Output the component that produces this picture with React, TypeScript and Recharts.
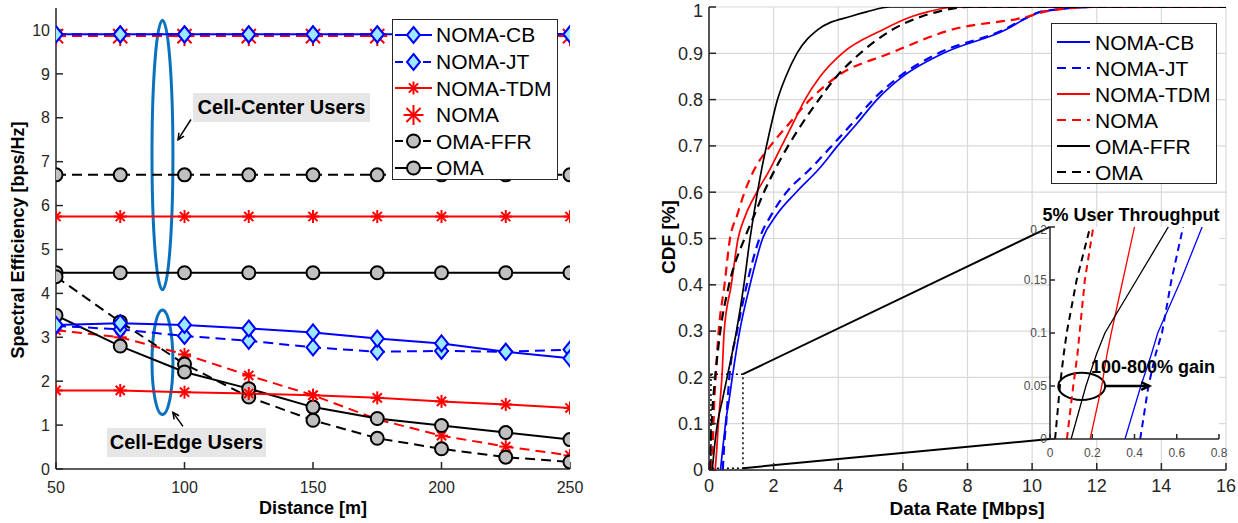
import React from 'react';
import {
  LineChart,
  Line,
  XAxis,
  YAxis,
  CartesianGrid,
  ReferenceArea,
  ReferenceLine,
} from 'recharts';

const FONT = '"Liberation Sans", Arial, Helvetica, sans-serif';
const AXIS = '#262626';
const BLUE = '#0000ff';
const RED = '#ff0000';
const BLACK = '#000000';
const CYAN = '#9be8ff';
const GRAYFILL = '#c0c0c0';
const ANNOT = '#0a72bd';

// ---------------- Left panel: spectral efficiency vs distance ----------------
const distances = [50, 75, 100, 125, 150, 175, 200, 225, 250];
const distanceTicks = [50, 100, 150, 200, 250];
const seTicks = [0, 1, 2, 3, 4, 5, 6, 7, 8, 9, 10];

const cbCenter = [9.9, 9.9, 9.9, 9.9, 9.9, 9.9, 9.9, 9.9, 9.9];
const jtCenter = [9.9, 9.9, 9.9, 9.9, 9.9, 9.9, 9.9, 9.9, 9.9];
const nomaCenter = [9.86, 9.86, 9.86, 9.86, 9.86, 9.86, 9.86, 9.86, 9.86];
const tdmCenter = [5.75, 5.75, 5.75, 5.75, 5.75, 5.75, 5.75, 5.75, 5.75];
const ffrCenter = [6.7, 6.7, 6.7, 6.7, 6.7, 6.7, 6.7, 6.7, 6.7];
const omaCenter = [4.47, 4.47, 4.47, 4.47, 4.47, 4.47, 4.47, 4.47, 4.47];

const cbEdge = [3.28, 3.32, 3.28, 3.2, 3.11, 2.97, 2.86, 2.67, 2.52];
const jtEdge = [3.26, 3.18, 3.03, 2.92, 2.77, 2.67, 2.69, 2.67, 2.72];
const tdmEdge = [1.79, 1.79, 1.75, 1.72, 1.68, 1.62, 1.54, 1.47, 1.39];
const nomaEdge = [3.16, 3.0, 2.61, 2.13, 1.68, 1.13, 0.76, 0.51, 0.31];
const ffrEdge = [4.38, 3.35, 2.39, 1.64, 1.11, 0.7, 0.46, 0.27, 0.16];
const omaEdge = [3.5, 2.8, 2.21, 1.83, 1.41, 1.15, 0.99, 0.83, 0.67];

const leftData = distances.map((d, i) => ({
  d,
  cbC: cbCenter[i],
  jtC: jtCenter[i],
  nomaC: nomaCenter[i],
  tdmC: tdmCenter[i],
  ffrC: ffrCenter[i],
  omaC: omaCenter[i],
  cbE: cbEdge[i],
  jtE: jtEdge[i],
  tdmE: tdmEdge[i],
  nomaE: nomaEdge[i],
  ffrE: ffrEdge[i],
  omaE: omaEdge[i],
}));

// ---------------- Right panel: CDF of data rate ----------------
const rateTicks = [0, 2, 4, 6, 8, 10, 12, 14, 16];
const cdfTicks = [0, 0.1, 0.2, 0.3, 0.4, 0.5, 0.6, 0.7, 0.8, 0.9, 1];
const insetRateTicks = [0, 0.2, 0.4, 0.6, 0.8];
const insetCdfTicks = [0, 0.05, 0.1, 0.15, 0.2];

const cdfLevels = [0, 0.05, 0.08, 0.1, 0.15, 0.2, 0.3, 0.4, 0.5, 0.55, 0.6, 0.65, 0.7, 0.75, 0.8, 0.85, 0.9, 0.95, 0.98, 0.99, 1, 1];
const rateCB = [0.355, 0.43, 0.48, 0.51, 0.62, 0.72, 0.95, 1.27, 1.66, 2.08, 2.7, 3.4, 3.98, 4.6, 5.2, 6.0, 7.25, 9.15, 9.94, 10.3, 12, 16];
const rateJT = [0.427, 0.466, 0.5, 0.53, 0.575, 0.63, 0.87, 1.17, 1.56, 1.92, 2.4, 3.13, 3.8, 4.45, 5.08, 5.9, 7.1, 9.1, 9.92, 10.28, 12, 16];
const rateTDM = [0.19, 0.245, 0.27, 0.29, 0.345, 0.4, 0.47, 0.69, 0.9, 1.13, 1.48, 1.89, 2.25, 2.61, 2.97, 3.44, 4.12, 5.35, 6.3, 6.8, 7.6, 16];
const rateNOMA = [0.08, 0.11, 0.13, 0.14, 0.165, 0.205, 0.3, 0.48, 0.65, 0.87, 1.1, 1.41, 1.9, 2.5, 3.13, 3.96, 5.6, 7.46, 9.9, 10.4, 12, 16];
const rateFFR = [0.1, 0.17, 0.22, 0.26, 0.41, 0.56, 0.85, 1.08, 1.27, 1.38, 1.5, 1.63, 1.78, 1.94, 2.12, 2.38, 2.72, 3.35, 4.4, 4.9, 5.6, 16];
const rateOMA = [0.024, 0.047, 0.065, 0.079, 0.126, 0.19, 0.35, 0.62, 1.1, 1.4, 1.7, 2.05, 2.45, 2.9, 3.4, 3.95, 4.68, 5.65, 6.6, 7.1, 8.0, 16];

const toCdf = (rates: number[]) => rates.map((r, i) => ({ rate: r, cdf: cdfLevels[i] }));

const rightSeries = [
  { name: 'NOMA-CB', color: BLUE, dashed: false, data: toCdf(rateCB) },
  { name: 'NOMA-JT', color: BLUE, dashed: true, data: toCdf(rateJT) },
  { name: 'NOMA-TDM', color: RED, dashed: false, data: toCdf(rateTDM) },
  { name: 'NOMA', color: RED, dashed: true, data: toCdf(rateNOMA) },
  { name: 'OMA-FFR', color: BLACK, dashed: false, data: toCdf(rateFFR) },
  { name: 'OMA', color: BLACK, dashed: true, data: toCdf(rateOMA) },
];

type MarkerKind = 'diamond' | 'star' | 'bigstar' | 'circle';
const leftLegend: { name: string; color: string; dashed: boolean; marker: MarkerKind; noLine?: boolean }[] = [
  { name: 'NOMA-CB', color: BLUE, dashed: false, marker: 'diamond' },
  { name: 'NOMA-JT', color: BLUE, dashed: true, marker: 'diamond' },
  { name: 'NOMA-TDM', color: RED, dashed: false, marker: 'star' },
  { name: 'NOMA', color: RED, dashed: true, marker: 'bigstar', noLine: true },
  { name: 'OMA-FFR', color: BLACK, dashed: true, marker: 'circle' },
  { name: 'OMA', color: BLACK, dashed: false, marker: 'circle' },
];

// ---------------- marker drawing ----------------
function markerSvg(kind: MarkerKind, cx: number, cy: number, key?: any) {
  if (kind === 'diamond') {
    return (
      <polygon
        key={key}
        points={`${cx},${cy - 8} ${cx + 6.5},${cy} ${cx},${cy + 8} ${cx - 6.5},${cy}`}
        fill={CYAN}
        stroke={BLUE}
        strokeWidth={2}
      />
    );
  }
  if (kind === 'circle') {
    return <circle key={key} cx={cx} cy={cy} r={6.5} fill={GRAYFILL} stroke={BLACK} strokeWidth={2} />;
  }
  const r = kind === 'bigstar' ? 10 : 6.5;
  const d = r * 0.7071;
  return (
    <g key={key} stroke={RED} strokeWidth={2}>
      <line x1={cx - r} y1={cy} x2={cx + r} y2={cy} />
      <line x1={cx} y1={cy - r} x2={cx} y2={cy + r} />
      <line x1={cx - d} y1={cy - d} x2={cx + d} y2={cy + d} />
      <line x1={cx - d} y1={cy + d} x2={cx + d} y2={cy - d} />
    </g>
  );
}

const dotOf = (kind: MarkerKind) => (p: any) => {
  const { cx, cy, index } = p;
  if (cx == null || cy == null) return <g key={`e${index}`} />;
  return markerSvg(kind, cx, cy, `m${index}`);
};

const noTick = () => null;

const ellipseShape = (color: string, w: number) => (p: any) => {
  const { x, y, width, height } = p;
  return (
    <ellipse
      cx={x + width / 2}
      cy={y + height / 2}
      rx={Math.abs(width) / 2}
      ry={Math.abs(height) / 2}
      fill="none"
      stroke={color}
      strokeWidth={w}
    />
  );
};

const arrowShape = (w: number, head: number) => (p: any) => {
  const { x1, y1, x2, y2 } = p;
  const a = Math.atan2(y2 - y1, x2 - x1);
  const ax = x2 - head * Math.cos(a - 0.45);
  const ay = y2 - head * Math.sin(a - 0.45);
  const bx = x2 - head * Math.cos(a + 0.45);
  const by = y2 - head * Math.sin(a + 0.45);
  return (
    <g stroke={BLACK} strokeWidth={w} fill="none">
      <line x1={x1} y1={y1} x2={x2} y2={y2} />
      <path d={`M${ax},${ay} L${x2},${y2} L${bx},${by}`} />
    </g>
  );
};

const axisStyle = { stroke: AXIS, strokeWidth: 1.5 };

// ---------------- HTML overlays ----------------
function LeftLegend() {
  return (
    <div
      style={{
        position: 'absolute',
        left: 392,
        top: 19,
        width: 166,
        height: 161,
        border: `1px solid ${AXIS}`,
        background: '#fff',
        boxSizing: 'border-box',
      }}
    >
      {leftLegend.map((s, i) => (
        <div
          key={s.name}
          style={{ position: 'absolute', left: 0, top: 1.7 + i * 26.6, height: 26.6, display: 'flex', alignItems: 'center' }}
        >
          <svg width={43} height={26} style={{ display: 'block' }}>
            {!s.noLine && (
              <line
                x1={2}
                y1={13}
                x2={39}
                y2={13}
                stroke={s.color}
                strokeWidth={2}
                strokeDasharray={s.dashed ? '8 6' : undefined}
              />
            )}
            {markerSvg(s.marker, 20.5, 13)}
          </svg>
          <span style={{ fontFamily: FONT, fontSize: 21, color: '#000', lineHeight: 1 }}>{s.name}</span>
        </div>
      ))}
    </div>
  );
}

function RightLegend() {
  return (
    <div
      style={{
        position: 'absolute',
        left: 1051,
        top: 23,
        width: 166,
        height: 161,
        border: `1px solid ${AXIS}`,
        background: '#fff',
        boxSizing: 'border-box',
      }}
    >
      {rightSeries.map((s, i) => (
        <div
          key={s.name}
          style={{ position: 'absolute', left: 0, top: 5 + i * 26, height: 26, display: 'flex', alignItems: 'center' }}
        >
          <svg width={43} height={26} style={{ display: 'block' }}>
            <line
              x1={5}
              y1={13}
              x2={38}
              y2={13}
              stroke={s.color}
              strokeWidth={2}
              strokeDasharray={s.dashed ? '9 6' : undefined}
            />
          </svg>
          <span style={{ fontFamily: FONT, fontSize: 21, color: '#000', lineHeight: 1 }}>{s.name}</span>
        </div>
      ))}
    </div>
  );
}

const textBase: React.CSSProperties = {
  position: 'absolute',
  fontFamily: FONT,
  fontWeight: 'bold',
  whiteSpace: 'nowrap',
  lineHeight: 1,
  color: '#000',
};

export default function App() {
  return (
    <div style={{ position: 'absolute', left: 0, top: 0, width: 1238, height: 523, background: '#fff', overflow: 'hidden' }}>
      {/* Left chart */}
      <div style={{ position: 'absolute', left: 0, top: 0 }}>
        <LineChart width={600} height={523} data={leftData} margin={{ top: 8, right: 30, left: 0, bottom: 0 }}>
          <XAxis
            dataKey="d"
            type="number"
            domain={[50, 250]}
            ticks={distanceTicks}
            allowDataOverflow
            height={54}
            axisLine={axisStyle}
            tickLine={axisStyle}
            tickSize={-7}
            tickMargin={20}
            tick={{ fill: AXIS, fontSize: 16, fontFamily: FONT }}
          />
          <XAxis
            xAxisId="top"
            orientation="top"
            type="number"
            domain={[50, 250]}
            ticks={distanceTicks}
            allowDataOverflow
            height={0}
            axisLine={axisStyle}
            tickLine={axisStyle}
            tickSize={-7}
            tick={noTick}
          />
          <YAxis
            type="number"
            domain={[0, 10.5]}
            ticks={seTicks}
            allowDataOverflow
            width={56}
            axisLine={axisStyle}
            tickLine={axisStyle}
            tickSize={-7}
            tickMargin={13}
            tick={{ fill: AXIS, fontSize: 16, fontFamily: FONT }}
          />
          <YAxis
            yAxisId="right"
            orientation="right"
            type="number"
            domain={[0, 10.5]}
            ticks={seTicks}
            allowDataOverflow
            width={0}
            axisLine={axisStyle}
            tickLine={axisStyle}
            tickSize={-7}
            tick={noTick}
          />
          <Line dataKey="nomaC" stroke={RED} strokeWidth={2} strokeDasharray="10 6" dot={dotOf('bigstar')} isAnimationActive={false} />
          <Line dataKey="tdmC" stroke={RED} strokeWidth={2} dot={dotOf('star')} isAnimationActive={false} />
          <Line dataKey="ffrC" stroke={BLACK} strokeWidth={2} strokeDasharray="10 6" dot={dotOf('circle')} isAnimationActive={false} />
          <Line dataKey="omaC" stroke={BLACK} strokeWidth={2} dot={dotOf('circle')} isAnimationActive={false} />
          <Line dataKey="jtC" stroke={BLUE} strokeWidth={2} strokeDasharray="10 6" dot={dotOf('diamond')} isAnimationActive={false} />
          <Line dataKey="cbC" stroke={BLUE} strokeWidth={2} dot={dotOf('diamond')} isAnimationActive={false} />

          <Line dataKey="nomaE" stroke={RED} strokeWidth={2} strokeDasharray="10 6" dot={dotOf('star')} isAnimationActive={false} />
          <Line dataKey="ffrE" stroke={BLACK} strokeWidth={2} strokeDasharray="10 6" dot={dotOf('circle')} isAnimationActive={false} />
          <Line dataKey="omaE" stroke={BLACK} strokeWidth={2} dot={dotOf('circle')} isAnimationActive={false} />
          <Line dataKey="tdmE" stroke={RED} strokeWidth={2} dot={dotOf('star')} isAnimationActive={false} />
          <Line dataKey="jtE" stroke={BLUE} strokeWidth={2} strokeDasharray="10 6" dot={dotOf('diamond')} isAnimationActive={false} />
          <Line dataKey="cbE" stroke={BLUE} strokeWidth={2} dot={dotOf('diamond')} isAnimationActive={false} />

          <ReferenceArea x1={87.35} x2={95.5} y1={4.08} y2={10.22} shape={ellipseShape(ANNOT, 3)} ifOverflow="visible" />
          <ReferenceArea x1={87.35} x2={95.5} y1={1.24} y2={3.62} shape={ellipseShape(ANNOT, 3)} ifOverflow="visible" />
          <ReferenceLine segment={[{ x: 102.5, y: 7.96 }, { x: 97.5, y: 7.5 }]} shape={arrowShape(1.5, 7)} ifOverflow="visible" />
          <ReferenceLine segment={[{ x: 99.4, y: 0.97 }, { x: 95.5, y: 1.29 }]} shape={arrowShape(1.5, 7)} ifOverflow="visible" />
        </LineChart>
      </div>

      {/* Right chart */}
      <div style={{ position: 'absolute', left: 620, top: 0 }}>
        <LineChart width={618} height={523} margin={{ top: 7, right: 12, left: 0, bottom: 0 }}>
          <CartesianGrid stroke="#d9d9d9" strokeWidth={1.2} />
          <XAxis
            dataKey="rate"
            type="number"
            domain={[0, 16]}
            ticks={rateTicks}
            allowDataOverflow
            height={53}
            axisLine={axisStyle}
            tickLine={axisStyle}
            tickSize={-7}
            tickMargin={16}
            tick={{ fill: AXIS, fontSize: 18, fontFamily: FONT }}
          />
          <XAxis
            xAxisId="top"
            orientation="top"
            type="number"
            domain={[0, 16]}
            ticks={rateTicks}
            allowDataOverflow
            height={0}
            axisLine={axisStyle}
            tickLine={axisStyle}
            tickSize={-7}
            tick={noTick}
          />
          <YAxis
            type="number"
            domain={[0, 1]}
            ticks={cdfTicks}
            allowDataOverflow
            width={89}
            axisLine={axisStyle}
            tickLine={axisStyle}
            tickSize={-7}
            tickMargin={13}
            tick={{ fill: AXIS, fontSize: 18, fontFamily: FONT }}
          />
          <YAxis
            yAxisId="right"
            orientation="right"
            type="number"
            domain={[0, 1]}
            ticks={cdfTicks}
            allowDataOverflow
            width={0}
            axisLine={axisStyle}
            tickLine={axisStyle}
            tickSize={-7}
            tick={noTick}
          />
          {rightSeries.map((s) => (
            <Line
              key={s.name}
              data={s.data}
              dataKey="cdf"
              type="monotone"
              stroke={s.color}
              strokeWidth={s.dashed ? 2.2 : 1.7}
              strokeDasharray={s.dashed ? '9 6' : undefined}
              dot={false}
              isAnimationActive={false}
            />
          ))}
          <ReferenceArea x1={0.06} x2={1.05} y1={0.004} y2={0.207} fill="none" stroke={BLACK} strokeWidth={1.5} strokeDasharray="2 3" ifOverflow="visible" />
          <ReferenceLine segment={[{ x: 1.05, y: 0.207 }, { x: 10.55, y: 0.525 }]} stroke={BLACK} strokeWidth={2} ifOverflow="visible" />
          <ReferenceLine segment={[{ x: 1.05, y: 0.004 }, { x: 10.55, y: 0.067 }]} stroke={BLACK} strokeWidth={2} ifOverflow="visible" />
        </LineChart>
      </div>

      {/* Inset chart */}
      <div style={{ position: 'absolute', left: 1000, top: 222 }}>
        <LineChart width={229} height={242} margin={{ top: 5, right: 10, left: 0, bottom: 0 }}>
          <CartesianGrid fill="#ffffff" fillOpacity={1} stroke="none" />
          <XAxis
            dataKey="rate"
            type="number"
            domain={[0, 0.8]}
            ticks={insetRateTicks}
            allowDataOverflow
            height={25}
            axisLine={axisStyle}
            tickLine={axisStyle}
            tickSize={-5}
            tickMargin={14}
            tick={{ fill: '#4d4d4d', fontSize: 12, fontFamily: FONT }}
          />
          <XAxis
            xAxisId="top"
            orientation="top"
            type="number"
            domain={[0, 0.8]}
            ticks={insetRateTicks}
            allowDataOverflow
            height={0}
            axisLine={axisStyle}
            tickLine={axisStyle}
            tickSize={-5}
            tick={noTick}
          />
          <YAxis
            type="number"
            domain={[0, 0.2]}
            ticks={insetCdfTicks}
            allowDataOverflow
            width={50}
            axisLine={axisStyle}
            tickLine={axisStyle}
            tickSize={-5}
            tickMargin={8}
            tick={{ fill: '#4d4d4d', fontSize: 12, fontFamily: FONT }}
          />
          <YAxis
            yAxisId="right"
            orientation="right"
            type="number"
            domain={[0, 0.2]}
            ticks={insetCdfTicks}
            allowDataOverflow
            width={0}
            axisLine={axisStyle}
            tickLine={axisStyle}
            tickSize={-5}
            tick={noTick}
          />
          {rightSeries.map((s) => (
            <Line
              key={s.name}
              data={s.data}
              dataKey="cdf"
              type="linear"
              stroke={s.color}
              strokeWidth={s.dashed ? 2 : 1.3}
              strokeDasharray={s.dashed ? '7 5' : undefined}
              dot={false}
              isAnimationActive={false}
            />
          ))}
          <ReferenceArea x1={0.039} x2={0.261} y1={0.0368} y2={0.0626} shape={ellipseShape(BLACK, 2)} ifOverflow="visible" />
          <ReferenceLine segment={[{ x: 0.261, y: 0.05 }, { x: 0.47, y: 0.05 }]} shape={arrowShape(2.5, 9)} ifOverflow="visible" />
        </LineChart>
      </div>

      <LeftLegend />
      <RightLegend />

      {/* annotation text boxes */}
      <div
        style={{
          ...textBase,
          left: 193,
          top: 93,
          width: 177,
          height: 29,
          background: '#e6e6e6',
          fontSize: 20,
          lineHeight: '29px',
          textAlign: 'center',
        }}
      >
        Cell-Center Users
      </div>
      <div
        style={{
          ...textBase,
          left: 107,
          top: 428,
          width: 159,
          height: 29,
          background: '#e6e6e6',
          fontSize: 20,
          lineHeight: '29px',
          textAlign: 'center',
        }}
      >
        Cell-Edge Users
      </div>
      <div style={{ ...textBase, left: 1131, top: 215, fontSize: 18, transform: 'translate(-50%,-50%)' }}>5% User Throughput</div>
      <div style={{ ...textBase, left: 1091, top: 367, fontSize: 18, transform: 'translate(0,-50%)' }}>100-800% gain</div>

      {/* axis titles */}
      <div style={{ ...textBase, left: 17.5, top: 240, fontSize: 18, transform: 'translate(-50%,-50%) rotate(-90deg)' }}>
        Spectral Efficiency [bps/Hz]
      </div>
      <div style={{ ...textBase, left: 313, top: 508, fontSize: 18, transform: 'translate(-50%,-50%)' }}>Distance [m]</div>
      <div style={{ ...textBase, left: 667.5, top: 237, fontSize: 19, transform: 'translate(-50%,-50%) rotate(-90deg)' }}>CDF [%]</div>
      <div style={{ ...textBase, left: 967, top: 508, fontSize: 19, transform: 'translate(-50%,-50%)' }}>Data Rate [Mbps]</div>
    </div>
  );
}
